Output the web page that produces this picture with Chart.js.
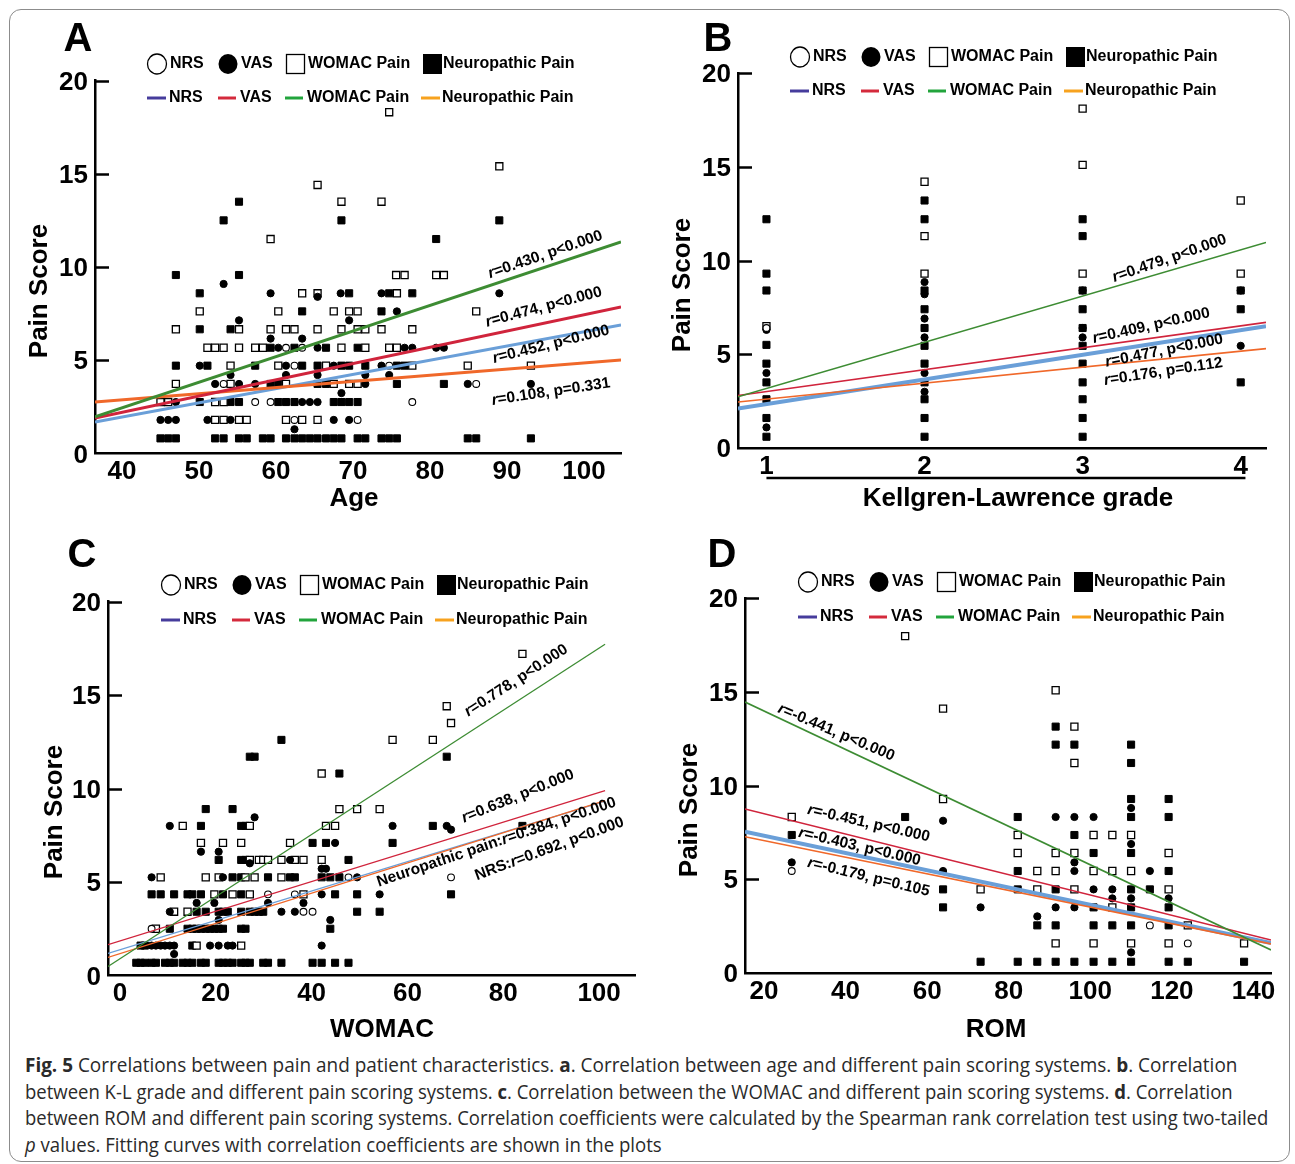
<!DOCTYPE html>
<html><head><meta charset="utf-8">
<script src="https://cdn.jsdelivr.net/npm/chart.js@4.4.1/dist/chart.umd.min.js"></script>
<style>
html,body{margin:0;padding:0;background:#fff;}
#page{position:relative;width:1295px;height:1164px;overflow:hidden;background:#fff;}
#frame{position:absolute;left:9px;top:9px;width:1281px;height:1153px;border:1.5px solid #8c8c8c;border-radius:12px;box-sizing:border-box;}
canvas{position:absolute;}
#caption{position:absolute;left:25px;top:1052px;font-family:'Open Sans',sans-serif;font-size:20px;color:#2a2a2a;}
.cl{white-space:nowrap;height:26.6px;line-height:26.6px;transform-origin:0 50%;}
.cl span{display:inline-block;}
</style></head>
<body><div id="page">
<div id="frame"></div>
<canvas id="cA" width="640" height="510" style="left:20px;top:15px"></canvas>
<canvas id="cB" width="620" height="510" style="left:665px;top:15px"></canvas>
<canvas id="cC" width="640" height="510" style="left:20px;top:535px"></canvas>
<canvas id="cD" width="620" height="510" style="left:665px;top:535px"></canvas>
<div id="caption">
<div class="cl" data-w="1212"><span><b>Fig. 5</b> Correlations between pain and patient characteristics. <b>a</b>. Correlation between age and different pain scoring systems. <b>b</b>. Correlation</span></div>
<div class="cl" data-w="1208"><span>between K-L grade and different pain scoring systems. <b>c</b>. Correlation between the WOMAC and different pain scoring systems. <b>d</b>. Correlation</span></div>
<div class="cl" data-w="1243"><span>between ROM and different pain scoring systems. Correlation coefficients were calculated by the Spearman rank correlation test using two-tailed</span></div>
<div class="cl" data-w="637"><span><i>p</i> values. Fitting curves with correlation coefficients are shown in the plots</span></div>
</div>
</div>
<script>
// ---------- shared ticks / names ----------
const yTicks=[0,5,10,15,20];
const ageTicks=[40,50,60,70,80,90,100];
const klTicks=[1,2,3,4];
const womacTicks=[0,20,40,60,80,100];
const romTicks=[20,40,60,80,100,120,140];
const seriesNames=['NRS','VAS','WOMAC Pain','Neuropathic Pain'];

// ---------- Panel A: Age ----------
const ageNRS=[[61.3,5.67],[63.4,5.67],[62.4,4.71],[74.7,4.71],[53.2,3.73],[86.0,3.73],[57.3,2.76],[59.3,2.76],[77.7,2.76],[62.4,1.8],[70.6,1.8]];
const ageVAS=[[53.2,9.09],[59.3,8.59],[65.4,8.4],[68.4,8.59],[73.7,8.59],[89.0,8.59],[75.7,7.62],[55.2,7.14],[69.5,7.14],[59.3,6.16],[63.4,6.16],[60.3,5.67],[65.4,5.67],[76.7,5.67],[77.7,5.67],[80.8,5.67],[81.8,5.67],[50.1,4.71],[61.3,4.71],[67.5,4.71],[73.7,4.71],[54.1,4.21],[61.3,4.21],[65.4,4.21],[71.6,4.21],[74.7,4.21],[52.1,3.73],[55.2,3.73],[57.3,3.73],[71.6,3.73],[84.9,3.73],[93.1,3.73],[68.5,3.24],[47.0,2.76],[63.4,2.76],[64.4,2.76],[65.4,2.76],[45.0,1.8],[46.0,1.8],[47.0,1.8],[51.1,1.8],[54.1,1.8],[67.5,1.8],[69.5,1.8],[62.4,1.3]];
const ageWOMAC=[[74.7,18.3],[89.0,15.4],[65.4,14.4],[68.5,13.5],[73.7,13.5],[59.3,11.5],[75.6,9.57],[76.7,9.57],[80.8,9.57],[81.8,9.57],[63.4,8.59],[65.4,8.59],[75.7,8.59],[50.1,7.62],[60.3,7.62],[67.5,7.62],[69.5,7.62],[70.6,7.62],[86.0,7.62],[47.0,6.66],[55.2,6.66],[59.3,6.66],[61.3,6.66],[62.4,6.66],[65.4,6.66],[68.5,6.66],[70.6,6.66],[71.6,6.66],[73.7,6.66],[77.7,6.66],[51.1,5.67],[52.1,5.67],[53.2,5.67],[55.2,5.67],[57.3,5.67],[58.3,5.67],[68.5,5.67],[71.6,5.67],[74.7,5.67],[75.7,5.67],[54.1,4.71],[60.3,4.71],[66.5,4.71],[77.7,4.71],[84.9,4.71],[93.1,4.71],[47.0,3.73],[54.1,3.73],[61.3,3.73],[67.5,3.73],[69.5,3.73],[70.6,3.73],[45.0,2.76],[46.0,2.76],[52.1,2.76],[53.2,2.76],[52.1,1.8],[53.2,1.8],[55.2,1.8],[56.2,1.8],[61.3,1.8],[63.4,1.8],[65.4,1.8]];
const ageNeuro=[[55.2,13.5],[53.2,12.5],[68.5,12.5],[89.0,12.5],[80.8,11.5],[47.0,9.57],[55.2,9.57],[50.1,8.59],[69.5,8.59],[74.7,8.59],[77.7,8.59],[63.4,7.62],[73.7,7.62],[50.1,6.66],[54.1,6.66],[59.3,5.67],[62.4,5.67],[66.5,5.67],[70.6,5.67],[47.0,4.71],[51.1,4.71],[57.3,4.71],[63.4,4.71],[65.4,4.71],[68.5,4.71],[69.5,4.71],[71.6,4.71],[75.7,4.71],[76.7,4.71],[59.3,3.73],[60.3,3.73],[65.4,3.73],[66.5,3.73],[75.7,3.73],[81.8,3.73],[50.1,2.76],[54.1,2.76],[55.2,2.76],[60.3,2.76],[61.3,2.76],[62.4,2.76],[67.5,2.76],[68.5,2.76],[69.5,2.76],[70.6,2.76],[45.0,0.81],[46.0,0.81],[47.0,0.81],[52.1,0.81],[53.2,0.81],[55.2,0.81],[56.2,0.81],[58.3,0.81],[59.3,0.81],[61.3,0.81],[62.4,0.81],[63.4,0.81],[64.4,0.81],[65.4,0.81],[66.5,0.81],[67.5,0.81],[68.5,0.81],[70.6,0.81],[71.6,0.81],[73.7,0.81],[74.7,0.81],[75.7,0.81],[84.9,0.81],[86.0,0.81],[93.1,0.81]];
const ageFitNRS=[[36.5,1.69],[104.8,6.89]];
const ageFitVAS=[[36.5,1.9],[104.8,7.86]];
const ageFitWOMAC=[[36.5,1.96],[104.8,11.34]];
const ageFitNeuro=[[36.5,2.76],[104.8,5.01]];
const ageNotes=['r=0.430, p<0.000','r=0.474, p<0.000','r=0.452, p<0.000','r=0.108, p=0.331'];

// ---------- Panel B: Kellgren-Lawrence grade ----------
const klNRS=[[1,6.4]];
const klVAS=[[1,6.3],[1,4.0],[1,1.1],[2,8.85],[2,8.2],[2,6.9],[2,5.9],[2,4.0],[2,3.0],[3,8.4],[3,6.4],[3,5.9],[4,8.4],[4,5.45]];
const klWOMAC=[[1,6.5],[2,14.2],[2,11.3],[2,9.3],[3,18.1],[3,15.1],[3,9.3],[4,13.2],[4,9.3]];
const klNeuro=[[1,12.2],[1,9.3],[1,8.4],[1,5.5],[1,4.5],[1,3.5],[1,2.6],[1,1.6],[1,0.6],[2,13.2],[2,12.2],[2,8.4],[2,7.4],[2,6.4],[2,5.45],[2,4.5],[2,3.5],[2,2.6],[2,1.6],[2,0.6],[3,12.2],[3,11.3],[3,8.4],[3,7.4],[3,6.4],[3,5.45],[3,4.5],[3,3.5],[3,2.6],[3,1.6],[3,0.6],[4,8.4],[4,7.4],[4,3.5]];
const klFitNRS=[[0.82,2.1],[4.16,6.5]];
const klFitVAS=[[0.82,2.8],[4.16,6.7]];
const klFitWOMAC=[[0.82,2.73],[4.16,10.96]];
const klFitNeuro=[[0.82,2.45],[4.16,5.3]];
const klNotes=['r=0.479, p<0.000','r=0.409, p<0.000','r=0.477, p<0.000','r=0.176, p=0.112'];

// ---------- Panel C: WOMAC ----------
const womNRS=[[6.6,2.5],[30.9,4.34],[36.5,4.34],[38.3,3.41],[40.2,3.41],[47.7,5.25],[69.1,5.25]];
const womVAS=[[28.1,8.46],[10.4,8.0],[56.9,8.0],[68.2,8.0],[69.1,7.8],[44.9,7.09],[16.9,6.62],[20.6,6.62],[35.5,6.18],[27.1,6.0],[42.1,5.71],[43.0,5.71],[6.6,5.25],[21.5,5.25],[49.5,5.25],[42.1,4.34],[54.2,4.34],[16.0,3.88],[19.7,3.88],[30.9,3.88],[38.3,3.88],[10.4,3.41],[33.7,3.41],[36.5,3.41],[20.6,2.97],[43.9,2.97],[6.6,1.6],[7.5,1.6],[8.5,1.6],[9.4,1.6],[10.4,1.6],[11.3,1.6],[18.8,1.6],[20.6,1.6],[22.5,1.6],[23.5,1.6],[42.1,1.6],[11.3,1.15]];
const womWOMAC=[[84.0,17.2],[68.2,14.4],[69.1,13.5],[56.9,12.6],[65.3,12.6],[42.1,10.8],[45.8,8.9],[49.5,8.9],[54.2,8.9],[13.1,8.0],[27.1,8.0],[43.0,8.0],[44.9,8.0],[16.9,7.09],[21.5,7.09],[25.3,7.09],[35.5,7.09],[27.1,6.18],[29.0,6.18],[29.9,6.18],[30.9,6.18],[33.7,6.18],[36.5,6.18],[38.3,6.18],[42.1,6.18],[8.5,5.25],[17.9,5.25],[20.6,5.25],[26.2,5.25],[28.1,5.25],[33.7,5.25],[19.7,4.34],[23.5,4.34],[27.1,4.34],[38.3,4.34],[11.3,3.41],[14.1,3.41],[7.5,2.5],[16.0,1.6],[25.3,1.6]];
const womNeuro=[[33.7,12.6],[27.1,11.7],[28.1,11.7],[68.2,11.7],[45.8,10.8],[17.9,8.9],[23.5,8.9],[16.9,8.0],[25.3,8.0],[26.2,8.0],[65.3,8.0],[84.0,8.0],[40.2,7.09],[43.0,7.09],[56.9,7.09],[20.6,6.18],[25.3,6.18],[26.2,6.18],[47.7,6.18],[23.5,5.25],[25.3,5.25],[30.9,5.25],[35.5,5.25],[36.5,5.25],[42.1,5.25],[43.9,5.25],[45.8,5.25],[6.6,4.34],[8.5,4.34],[11.3,4.34],[14.1,4.34],[15.1,4.34],[16.9,4.34],[21.5,4.34],[25.3,4.34],[44.9,4.34],[49.5,4.34],[69.1,4.34],[16.0,3.41],[17.9,3.41],[20.6,3.41],[21.5,3.41],[22.5,3.41],[25.3,3.41],[27.1,3.41],[28.1,3.41],[29.0,3.41],[29.9,3.41],[49.5,3.41],[54.2,3.41],[10.4,2.5],[14.1,2.5],[15.1,2.5],[16.0,2.5],[16.9,2.5],[17.9,2.5],[18.8,2.5],[19.7,2.5],[20.6,2.5],[21.5,2.5],[25.3,2.5],[26.2,2.5],[43.9,2.5],[4.3,1.6],[5.2,1.6],[15.1,1.6],[3.4,0.68],[4.3,0.68],[5.2,0.68],[6.6,0.68],[7.5,0.68],[9.4,0.68],[10.4,0.68],[11.3,0.68],[13.1,0.68],[14.1,0.68],[15.1,0.68],[16.9,0.68],[17.9,0.68],[20.6,0.68],[21.5,0.68],[22.5,0.68],[23.5,0.68],[25.3,0.68],[26.2,0.68],[27.1,0.68],[29.9,0.68],[30.9,0.68],[33.7,0.68],[40.2,0.68],[42.1,0.68],[44.9,0.68],[47.7,0.68]];
const womFitNRS=[[-2.5,1.18],[101.25,9.33]];
const womFitVAS=[[-2.5,1.65],[101.25,9.88]];
const womFitWOMAC=[[-2.5,0.48],[101.25,17.71]];
const womFitNeuro=[[-2.5,0.97],[101.25,9.35]];
const womNotes=['r=0.778, p<0.000','r=0.638, p<0.000','Neuropathic pain:r=0.384, p<0.000','NRS:r=0.692, p<0.000'];

// ---------- Panel D: ROM ----------
const romNRS=[[26.8,5.44],[114.6,2.54],[123.9,1.58]];
const romVAS=[[26.8,5.9],[63.9,8.12],[63.9,5.44],[73.1,3.5],[87.0,3.02],[91.5,8.32],[91.5,3.5],[96.1,8.32],[96.1,5.9],[96.1,5.44],[96.1,3.5],[100.8,8.32],[100.8,4.46],[105.4,4.46],[105.4,3.98],[110.0,8.8],[110.0,6.88],[110.0,3.98],[110.0,1.1],[114.6,5.44],[119.2,3.98]];
const romWOMAC=[[26.8,8.32],[54.6,17.97],[63.9,14.1],[63.9,9.28],[73.1,4.46],[82.2,7.36],[82.2,6.4],[87.0,5.44],[87.0,4.46],[91.5,15.08],[91.5,6.4],[91.5,5.44],[91.5,1.58],[96.1,13.14],[96.1,11.2],[96.1,6.4],[96.1,4.46],[100.8,7.36],[100.8,5.44],[100.8,1.58],[105.4,7.36],[105.4,5.44],[105.4,3.5],[110.0,7.36],[110.0,5.44],[110.0,1.58],[119.2,6.4],[119.2,4.46],[119.2,1.58],[123.9,2.54],[137.7,1.58]];
const romNeuro=[[26.8,7.36],[54.6,8.32],[63.9,4.46],[63.9,3.5],[73.1,0.6],[82.2,8.32],[82.2,5.44],[82.2,4.46],[82.2,0.6],[87.0,2.54],[87.0,0.6],[91.5,13.14],[91.5,12.18],[91.5,4.46],[91.5,2.54],[91.5,0.6],[96.1,12.18],[96.1,7.36],[96.1,0.6],[100.8,6.4],[100.8,3.5],[100.8,2.54],[100.8,0.6],[105.4,2.54],[105.4,0.6],[110.0,12.18],[110.0,11.2],[110.0,9.28],[110.0,8.32],[110.0,6.4],[110.0,4.46],[110.0,3.5],[110.0,2.54],[110.0,0.6],[114.6,4.46],[119.2,9.28],[119.2,8.32],[119.2,5.44],[119.2,3.5],[119.2,2.54],[119.2,0.6],[123.9,0.6],[137.7,0.6]];
const romFitNRS=[[15.34,7.54],[144.3,1.6]];
const romFitVAS=[[15.34,8.75],[144.3,1.76]];
const romFitWOMAC=[[15.34,14.45],[144.3,1.23]];
const romFitNeuro=[[15.34,7.27],[144.3,1.55]];
const romNotes=['r=-0.441, p<0.000','r=-0.451, p<0.000','r=-0.403, p<0.000','r=-0.179, p=0.105'];

// ---------- styles ----------
const FONT='"Liberation Sans", Arial, sans-serif';
const fitColors=['#6a9fd8','#d0243c','#3d8c33','#f0682a'];
const legendColors=['#463c9c','#d42a3c','#22a43c','#f7a21e'];
const fitOrder=[1.3,1.1,1.0,1.2];
const markerStyles=[
  {pointStyle:'circle',r:3.4,bg:'#ffffff',bw:1.1},
  {pointStyle:'circle',r:3.6,bg:'#000000',bw:1},
  {pointStyle:'rect',r:5,bg:'#ffffff',bw:1.3},
  {pointStyle:'rect',r:5,bg:'#000000',bw:1}
];

const PANELS=[
 {id:'A',cv:{left:20,top:15,w:640,h:510},area:{l:95,t:80.5,r:621,b:453.5},xMin:36.5,xMax:104.8,xTicks:ageTicks,
  series:[ageNRS,ageVAS,ageWOMAC,ageNeuro],fits:[ageFitNRS,ageFitVAS,ageFitWOMAC,ageFitNeuro],fitW:[3,3,3,3],
  notes:ageNotes,notePos:[[87.8,9.4,-19],[87.4,6.8,-15],[88.3,4.85,-14],[88.1,2.6,-8.5]],
  letterPos:[78,40],xTitle:'Age',xTitlePos:[354,499],yTitlePos:[40,291],legendPos:[147,64,98]},
 {id:'B',cv:{left:665,top:15,w:620,h:510},area:{l:738,t:73,r:1266,b:448},xMin:0.82,xMax:4.16,xTicks:klTicks,
  series:[klNRS,klVAS,klWOMAC,klNeuro],fits:[klFitNRS,klFitVAS,klFitWOMAC,klFitNeuro],fitW:[4,1.6,1.6,1.6],
  notes:klNotes,notePos:[[3.2,8.85,-19],[3.07,5.6,-12.6],[3.15,4.34,-11.3],[3.14,3.36,-8.7]],
  letterPos:[718,40],xTitle:'Kellgren-Lawrence grade',xTitlePos:[1018,499],yTitlePos:[683,285],legendPos:[790,57,91],
  underline:{from:1,to:4.03,y:478}},
 {id:'C',cv:{left:20,top:535,w:640,h:510},area:{l:108,t:601.5,r:635,b:975.5},xMin:-2.5,xMax:107.5,xTicks:womacTicks,
  series:[womNRS,womVAS,womWOMAC,womNeuro],fits:[womFitNRS,womFitVAS,womFitWOMAC,womFitNeuro],fitW:[1.3,1.3,1.3,1.3],
  notes:womNotes,notePos:[[72.7,13.84,-33],[71.8,8.17,-22],[54.0,4.75,-18.7],[74.5,5.1,-20.3]],
  letterPos:[82,556],xTitle:'WOMAC',xTitlePos:[382,1030],yTitlePos:[55,812],legendPos:[161,585,620]},
 {id:'D',cv:{left:665,top:535,w:620,h:510},area:{l:745,t:598,r:1271,b:973},xMin:15.34,xMax:144.3,xTicks:romTicks,
  series:[romNRS,romVAS,romWOMAC,romNeuro],fits:[romFitNRS,romFitVAS,romFitWOMAC,romFitNeuro],fitW:[4,1.6,1.6,1.6],
  notes:romNotes,notePos:[[23.2,13.92,23],[30.5,8.5,12.9],[28.3,7.27,13.2],[30.5,5.67,13.6]],
  letterPos:[722,556],xTitle:'ROM',xTitlePos:[996,1030],yTitlePos:[690,810],legendPos:[798,582,617]}
];

function drawNote(ctx,text,x,y,deg){
  ctx.save();
  ctx.translate(x,y);ctx.rotate(deg*Math.PI/180);
  ctx.textAlign='left';ctx.textBaseline='alphabetic';ctx.fillStyle='#000';
  let cx=0;
  for(let i=0;i<text.length;i++){
    const ch=text[i];
    const ital=(ch==='r'&&text[i+1]==='=');
    ctx.font=(ital?'italic ':'')+'bold 15.5px '+FONT;
    ctx.fillText(ch,cx,0);
    cx+=ctx.measureText(ch).width;
  }
  ctx.restore();
}

function deco(P){
  return {id:'deco'+P.id,afterDraw(chart){
    const ctx=chart.ctx,a=chart.chartArea,xs=chart.scales.x,ys=chart.scales.y;
    const ox=P.cv.left,oy=P.cv.top;
    ctx.save();
    // inner ticks on y axis
    ctx.strokeStyle='#000';ctx.lineWidth=2.5;
    yTicks.forEach(v=>{if(v===0)return;const py=Math.round(ys.getPixelForValue(v))+0.5;
      ctx.beginPath();ctx.moveTo(a.left,py);ctx.lineTo(a.left+14,py);ctx.stroke();});
    // underline for panel B
    if(P.underline){const py=P.underline.y-oy;ctx.beginPath();
      ctx.moveTo(xs.getPixelForValue(P.underline.from),py);ctx.lineTo(xs.getPixelForValue(P.underline.to),py);ctx.stroke();}
    // panel letter
    ctx.fillStyle='#000';ctx.textAlign='center';ctx.textBaseline='middle';
    ctx.font='bold 40px '+FONT;ctx.fillText(P.id,P.letterPos[0]-ox,P.letterPos[1]-oy);
    // axis titles
    ctx.font='bold 26px '+FONT;
    ctx.fillText(P.xTitle,P.xTitlePos[0]-ox,P.xTitlePos[1]-oy);
    ctx.save();ctx.translate(P.yTitlePos[0]-ox,P.yTitlePos[1]-oy);ctx.rotate(-Math.PI/2);
    ctx.fillText('Pain Score',0,0);ctx.restore();
    // legend
    const X0=P.legendPos[0]-ox,r1=P.legendPos[1]-oy,r2=P.legendPos[2]-oy;
    ctx.font='bold 16px '+FONT;ctx.textAlign='left';ctx.textBaseline='middle';
    ctx.lineWidth=1.3;ctx.strokeStyle='#000';
    ctx.beginPath();ctx.ellipse(X0+10,r1,9.5,10,0,0,Math.PI*2);ctx.fillStyle='#fff';ctx.fill();ctx.stroke();
    ctx.fillStyle='#000';ctx.fillText(seriesNames[0],X0+23,r1);
    ctx.beginPath();ctx.ellipse(X0+81,r1,9.5,10,0,0,Math.PI*2);ctx.fill();
    ctx.fillText(seriesNames[1],X0+94,r1);
    ctx.strokeRect(X0+139.5,r1-9.5,18,19);
    ctx.fillText(seriesNames[2],X0+161,r1);
    ctx.fillRect(X0+276,r1-10,19,20);
    ctx.fillText(seriesNames[3],X0+296,r1);
    const segs=[[0,19,22],[71,89,93],[138,156,160],[274,293,295]];
    segs.forEach((s,i)=>{ctx.strokeStyle=legendColors[i];ctx.lineWidth=3;ctx.beginPath();
      ctx.moveTo(X0+s[0],r2);ctx.lineTo(X0+s[1],r2);ctx.stroke();
      ctx.fillStyle='#000';ctx.fillText(seriesNames[i],X0+s[2],r2);});
    // correlation notes
    P.notes.forEach((t,i)=>{const np=P.notePos[i];
      drawNote(ctx,t,xs.getPixelForValue(np[0]),ys.getPixelForValue(np[1]),np[2]);});
    ctx.restore();
  }};
}

function build(P){
  const datasets=[];
  P.series.forEach((arr,i)=>{const m=markerStyles[i];
    datasets.push({label:seriesNames[i],data:arr.map(p=>({x:p[0],y:p[1]})),showLine:false,
      pointStyle:m.pointStyle,pointRadius:m.r,pointHoverRadius:m.r,backgroundColor:m.bg,borderColor:'#000',
      pointBorderWidth:m.bw,borderWidth:m.bw,order:2+i*0.1});});
  P.fits.forEach((arr,i)=>{
    datasets.push({type:'line',label:seriesNames[i]+' fit',data:arr.map(p=>({x:p[0],y:p[1]})),showLine:true,
      borderColor:fitColors[i],borderWidth:P.fitW[i],pointRadius:0,fill:false,tension:0,order:fitOrder[i]});});
  const tickFont={family:FONT,size:26,weight:'bold'};
  new Chart(document.getElementById('c'+P.id),{
    type:'scatter',data:{datasets},
    plugins:[deco(P)],
    options:{responsive:false,animation:false,devicePixelRatio:1,
      layout:{padding:{top:P.area.t-P.cv.top,right:P.cv.left+P.cv.w-P.area.r,left:0,bottom:0}},
      plugins:{legend:{display:false},tooltip:{enabled:false}},
      scales:{
        x:{type:'linear',min:P.xMin,max:P.xMax,
          afterBuildTicks:s=>{s.ticks=P.xTicks.map(v=>({value:v}));},
          afterFit:s=>{s.height=P.cv.top+P.cv.h-P.area.b;},
          grid:{display:false,drawTicks:false},border:{display:true,color:'#000',width:2.5},
          ticks:{color:'#000',font:tickFont,padding:3,maxRotation:0,autoSkip:false}},
        y:{type:'linear',min:0,max:20,
          afterBuildTicks:s=>{s.ticks=yTicks.map(v=>({value:v}));},
          afterFit:s=>{s.width=P.area.l-P.cv.left;},
          grid:{display:false,drawTicks:false},border:{display:true,color:'#000',width:2.5},
          ticks:{color:'#000',font:tickFont,padding:7,labelOffset:2,autoSkip:false}}
      }}
  });
}
PANELS.forEach(build);

// fit caption lines (condensed face) to the widths of the printed lines
function fitCaption(){
  document.querySelectorAll('.cl').forEach(l=>{
    const sp=l.firstElementChild;const w=sp.offsetWidth;const target=+l.dataset.w;
    if(w>0) l.style.transform='scaleX('+(target/w)+')';
  });
}
fitCaption();
if(document.fonts&&document.fonts.ready){document.fonts.ready.then(fitCaption);}
</script>
</body></html>
